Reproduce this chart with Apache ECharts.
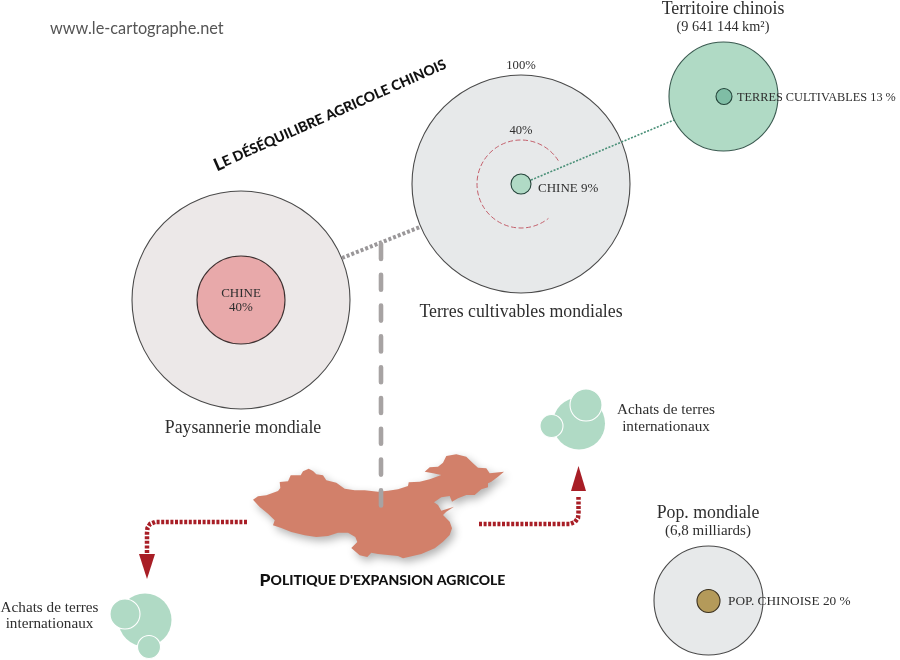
<!DOCTYPE html>
<html>
<head>
<meta charset="utf-8">
<title>Le déséquilibre agricole chinois</title>
<script src="https://cdn.jsdelivr.net/npm/echarts@6/dist/echarts.min.js"></script>
<style>
  html, body { margin: 0; background: #fff; }
  #chart { width: 900px; height: 660px; }
</style>
</head>
<body>
<div id="chart"></div>
<script>
// circles, in axis units
const circleNames = ['Paysannerie', 'Paysannerie Chine', 'Terres', 'Terres Chine', 'Territoire', 'Territoire cultivable',
  'Pop', 'Pop Chine', 'Achats NE', 'Achats NE a', 'Achats NE b', 'Achats SO', 'Achats SO a', 'Achats SO b']
const circleCx = [241, 241, 521, 521, 723.5, 724, 708.5, 708.5, 579, 586, 551.5, 145, 125, 149]
const circleCy = [300, 300, 184, 184, 96.5, 96.5, 600.5, 601, 423.5, 405, 426, 620, 614, 647]
const circleR = [109, 44, 109, 10, 54.5, 8, 54.5, 11.5, 26, 16, 11.5, 26.5, 15, 11.5]

// China outline
const chinaOutline = [[253,499.7],[258,496.3],[266.3,495.3],[278,491],[280.3,488],[279.7,482],[288,481.3],[290.7,475.3],
  [300.7,475.3],[303,471.3],[308.7,468.7],[313,471],[316.3,474.3],[323,475.3],[326.3,480.3],[336.3,482.7],[344.7,488.7],
  [354.7,490.3],[364.7,490.3],[378,491.7],[388,490.7],[398,489.3],[408,486],[408.7,482.3],[419.7,481.7],[429.7,479.3],
  [441.3,475],[433,473.3],[424.7,471.7],[429.7,467.3],[438,466.7],[443,462.7],[446.3,456],[456.3,454.3],[466.3,456.7],
  [473,463.3],[478,467.7],[486.3,468.3],[489.7,473.3],[504,471.7],[498,476.7],[491.3,481.7],[488,483.3],[488,487.3],
  [481.3,489.3],[474.7,495],[466.3,495],[458,498.3],[452,501.7],[449.7,496],[441.3,497.3],[434,502.3],[438,505],[441.3,510.7],
  [454,506.7],[446.3,511.7],[443,515],[449.7,521.7],[452,528.3],[449.7,535],[443,541.7],[434.7,548.3],[421.3,554],[403,558.3],
  [398,556],[388,555],[378,554],[371.3,552.7],[367.3,557],[359.7,555.3],[351.3,548],[357.3,542],[355.3,537],[348,532.7],
  [338,532.7],[328,536],[316.3,537],[304.7,535.3],[291.3,532],[281.3,528],[273,525.3],[274.7,520.3],[268,513.7],[259.7,507]]

// connectors and arrows
const linkGrey = [[342, 258], [420, 227]]
const linkGreen = [[531, 180], [674, 120]]
const linkDown = [[381, 244], [381, 520]]
const routeWest = [[247, 522], [155, 522], [150, 524], [147.5, 528], [147, 533], [147, 553]]
const routeEast = [[479, 524], [570, 524], [575, 522], [578, 518], [578.5, 513], [578.5, 497]]
const arrowWest = [[139, 554], [155, 554], [147, 579]]
const arrowEast = [[571, 491], [586, 491], [578.5, 466]]
const arc40 = { cx: 521, cy: 184, r: 44, fromDeg: -32, toDeg: 51.5 }

// labels
const labelTexts = ['www.le-cartographe.net', 'Territoire chinois', '(9 641 144 km²)', '100%', '40%', 'CHINE 9%',
  'TERRES CULTIVABLES 13 %', 'CHINE', '40%', 'Terres cultivables mondiales', 'Paysannerie mondiale',
  'Achats de terres', 'internationaux', 'Achats de terres', 'internationaux',
  'Pop. mondiale', '(6,8 milliards)', 'POP. CHINOISE 20 %']
const labelX = [50, 723, 723, 521, 521, 538, 737, 241, 241, 521, 243, 666, 666, 49.5, 49.5, 708, 708, 728]
const labelY = [29, 9, 27, 66, 131, 189, 98, 294, 308, 312, 428, 410, 427, 608, 624, 513, 531, 602]
const labelSize = [16.3, 17.8, 14.3, 12.7, 12.6, 13, 12.3, 13, 13, 17.8, 17.8, 15.2, 15.2, 15.2, 15.2, 17.8, 15, 13.3]
const labelAlign = ['left', 'center', 'center', 'center', 'center', 'left', 'left', 'center', 'center', 'center', 'center',
  'center', 'center', 'center', 'center', 'center', 'center', 'left']

const grey = '#e7e9ea'
const green = '#b0dac5'
const circleFill = ['#ece8e8', '#e8a9aa', grey, green, green, '#7fbda5', grey, '#b49a5a', green, green, green, green, green, green]
const circleStroke = ['#4a4a4a', '#3d3030', '#4a4a4a', '#24443a', '#3a5a50', '#24443a', '#4a4a4a', '#3a3020',
  null, '#fff', '#fff', null, '#fff', '#fff']

const toPoints = (api, pts) => pts.map(p => api.coord(p))

const pathSeries = (pts, style, z) => ({
  type: 'custom',
  coordinateSystem: 'cartesian2d',
  silent: true,
  clip: false,
  z: z,
  data: [pts[0]],
  renderItem: (params, api) => ({
    type: 'polyline',
    shape: { points: toPoints(api, pts) },
    style: Object.assign({ fill: null }, style)
  })
})

const arrowSeries = (pts) => ({
  type: 'custom',
  coordinateSystem: 'cartesian2d',
  silent: true,
  clip: false,
  z: 5,
  data: [pts[0]],
  renderItem: (params, api) => ({
    type: 'polygon',
    shape: { points: toPoints(api, pts) },
    style: { fill: '#a81e26' }
  })
})

const headingRich = {
  b: { fontFamily: 'Lato, sans-serif', fontWeight: 900, fontSize: 17.5, fill: '#111' },
  s: { fontFamily: 'Lato, sans-serif', fontWeight: 900, fontSize: 14, fill: '#111' }
}

const option = {
  animation: false,
  backgroundColor: '#fff',
  grid: { left: 0, right: 0, top: 0, bottom: 0 },
  xAxis: { type: 'value', min: 0, max: 900, show: false },
  yAxis: { type: 'value', min: 0, max: 660, inverse: true, show: false },
  series: [
    // China map, sits under the dashed link
    {
      type: 'custom',
      coordinateSystem: 'cartesian2d',
      silent: true,
      clip: false,
      z: 2,
      data: [chinaOutline[0]],
      renderItem: (params, api) => ({
        type: 'polygon',
        shape: { points: toPoints(api, chinaOutline) },
        style: {
          fill: '#d2806a',
          shadowBlur: 8,
          shadowOffsetX: 3,
          shadowOffsetY: 4,
          shadowColor: 'rgba(0,0,0,0.3)'
        }
      })
    },
    // circles
    {
      type: 'custom',
      name: 'circles',
      coordinateSystem: 'cartesian2d',
      silent: true,
      clip: false,
      z: 3,
      data: circleNames.map((n, i) => [circleCx[i], circleCy[i], circleR[i]]),
      renderItem: (params, api) => {
        const c = api.coord([api.value(0), api.value(1)])
        return {
          type: 'circle',
          shape: { cx: c[0], cy: c[1], r: api.value(2) },
          style: {
            fill: circleFill[params.dataIndex],
            stroke: circleStroke[params.dataIndex],
            lineWidth: 1.1
          }
        }
      }
    },
    // 40% dashed arc
    {
      type: 'custom',
      coordinateSystem: 'cartesian2d',
      silent: true,
      clip: false,
      z: 4,
      data: [[arc40.cx, arc40.cy]],
      renderItem: (params, api) => {
        const c = api.coord([arc40.cx, arc40.cy])
        return {
          type: 'arc',
          shape: {
            cx: c[0],
            cy: c[1],
            r: arc40.r,
            startAngle: arc40.fromDeg * Math.PI / 180,
            endAngle: arc40.toDeg * Math.PI / 180,
            clockwise: false
          },
          style: { fill: null, stroke: '#c4606c', lineWidth: 1, lineDash: [5, 2.5] }
        }
      }
    },
    pathSeries(linkGrey, { stroke: '#9a9799', lineWidth: 4, lineDash: [3, 2] }, 4),
    pathSeries(linkGreen, { stroke: '#4a9078', lineWidth: 1.6, lineDash: [2, 1.5] }, 4),
    pathSeries(linkDown, { stroke: '#a7a3a3', lineWidth: 4.6, lineCap: 'round', lineDash: [15, 15.8] }, 4),
    pathSeries(routeWest, { stroke: '#a81e26', lineWidth: 4.5, lineDash: [3, 1.6] }, 5),
    pathSeries(routeEast, { stroke: '#a81e26', lineWidth: 4.5, lineDash: [3, 1.6] }, 5),
    arrowSeries(arrowWest),
    arrowSeries(arrowEast),
    // plain labels
    {
      type: 'custom',
      coordinateSystem: 'cartesian2d',
      silent: true,
      clip: false,
      z: 6,
      data: labelTexts.map((t, i) => [labelX[i], labelY[i]]),
      renderItem: (params, api) => {
        const i = params.dataIndex
        const c = api.coord([api.value(0), api.value(1)])
        return {
          type: 'text',
          x: c[0],
          y: c[1],
          style: {
            text: labelTexts[i],
            align: labelAlign[i],
            verticalAlign: 'middle',
            fontFamily: i === 0 ? 'Lato, sans-serif' : '"Liberation Serif", serif',
            fontSize: labelSize[i],
            fill: i === 0 ? '#555' : '#2e2e2e'
          }
        }
      }
    },
    // the two headings, small caps
    {
      type: 'custom',
      coordinateSystem: 'cartesian2d',
      silent: true,
      clip: false,
      z: 6,
      data: [[330, 115], [382.5, 580]],
      renderItem: (params, api) => {
        const c = api.coord([api.value(0), api.value(1)])
        const isTitle = params.dataIndex === 0
        return {
          type: 'text',
          x: c[0],
          y: c[1],
          rotation: isTitle ? 24 * Math.PI / 180 : 0,
          style: {
            text: isTitle ? '{b|L}{s|E DÉSÉQUILIBRE AGRICOLE CHINOIS}' : "{b|P}{s|OLITIQUE D'EXPANSION AGRICOLE}",
            rich: headingRich,
            align: 'center',
            verticalAlign: 'middle'
          }
        }
      }
    }
  ]
}

const chart = echarts.init(document.getElementById('chart'), null, { renderer: 'canvas' })
chart.setOption(option)
</script>
</body>
</html>
